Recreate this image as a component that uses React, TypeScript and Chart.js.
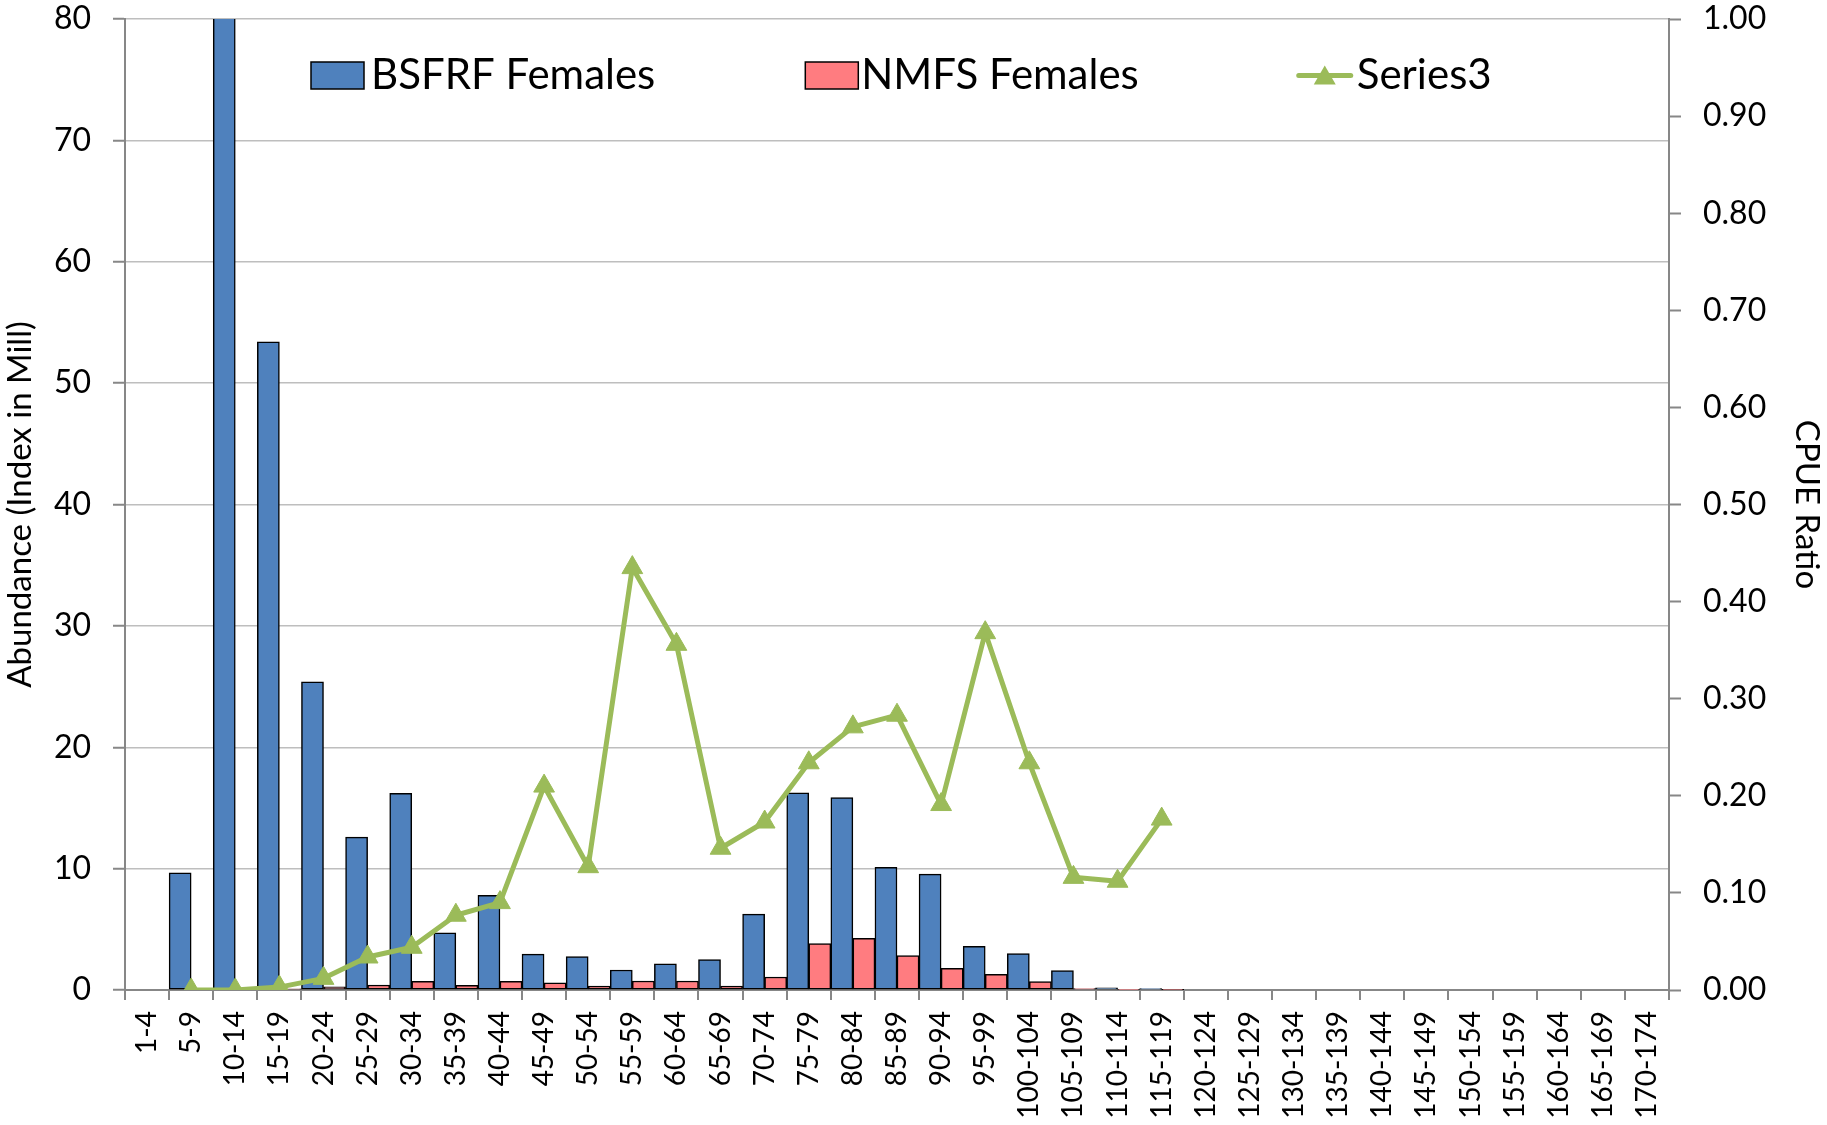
import React, { useEffect, useRef } from 'react';
import { Chart, registerables } from 'chart.js';

Chart.register(...registerables);

const categories = [
  '1-4', '5-9', '10-14', '15-19', '20-24', '25-29', '30-34', '35-39', '40-44', '45-49',
  '50-54', '55-59', '60-64', '65-69', '70-74', '75-79', '80-84', '85-89', '90-94', '95-99',
  '100-104', '105-109', '110-114', '115-119', '120-124', '125-129', '130-134', '135-139',
  '140-144', '145-149', '150-154', '155-159', '160-164', '165-169', '170-174',
];

const bsfrfFemales = [
  null, 9.65, 85, 53.4, 25.4, 12.6, 16.2, 4.7, 7.8, 2.95,
  2.75, 1.65, 2.15, 2.5, 6.25, 16.25, 15.85, 10.1, 9.55, 3.6,
  3.0, 1.6, 0.18, 0.12, null, null, null, null,
  null, null, null, null, null, null, null,
];

const nmfsFemales = [
  null, null, null, 0.1, 0.27, 0.41, 0.71, 0.38, 0.71, 0.6,
  0.33, 0.74, 0.74, 0.33, 1.07, 3.82, 4.26, 2.83, 1.79, 1.29,
  0.69, 0.12, 0.04, 0.02, null, null, null, null,
  null, null, null, null, null, null, null,
];

const series3 = [
  null, 0.0, 0.0, 0.003, 0.012, 0.034, 0.044, 0.077, 0.09, 0.21,
  0.127, 0.435, 0.356, 0.146, 0.173, 0.234, 0.271, 0.283, 0.191, 0.368,
  0.234, 0.116, 0.112, 0.176, null, null, null, null,
  null, null, null, null, null, null, null,
];

const seriesNames = ['BSFRF Females', 'NMFS Females', 'Series3'];
const leftAxisTitle = 'Abundance (Index in Mill)';
const rightAxisTitle = 'CPUE Ratio';

const FONT = 'Lato, "Open Sans", "DejaVu Sans", sans-serif';
const BLUE = '#4F81BD';
const PINK = '#FF7C80';
const GREEN = '#9BBB59';
const AXIS = '#878787';
const GRID = '#BEBEBE';

const legendPlugin = {
  id: 'excelLegend',
  afterDraw(chart: any) {
    const ctx = chart.ctx as CanvasRenderingContext2D;
    ctx.save();
    ctx.font = `42px ${FONT}`;
    ctx.textBaseline = 'alphabetic';
    ctx.textAlign = 'left';
    const baseline = 89;
    const midY = 75.5;
    const gap = 150;
    let x = 311;

    // BSFRF
    ctx.fillStyle = BLUE;
    ctx.fillRect(x, 62, 53, 27);
    ctx.strokeStyle = '#000';
    ctx.lineWidth = 1.5;
    ctx.strokeRect(x, 62, 53, 27);
    ctx.fillStyle = '#000';
    ctx.fillText(seriesNames[0], x + 60, baseline);
    x = x + 60 + ctx.measureText(seriesNames[0]).width + gap;

    // NMFS
    ctx.fillStyle = PINK;
    ctx.fillRect(x, 62, 53, 27);
    ctx.strokeStyle = '#000';
    ctx.lineWidth = 1.5;
    ctx.strokeRect(x, 62, 53, 27);
    ctx.fillStyle = '#000';
    ctx.fillText(seriesNames[1], x + 56, baseline);
    x = x + 56 + ctx.measureText(seriesNames[1]).width + gap;

    // Series3
    x += 10;
    ctx.strokeStyle = GREEN;
    ctx.lineWidth = 5;
    ctx.lineCap = 'round';
    ctx.beginPath();
    ctx.moveTo(x, midY);
    ctx.lineTo(x + 52, midY);
    ctx.stroke();
    const cx = x + 26;
    ctx.fillStyle = GREEN;
    ctx.beginPath();
    ctx.moveTo(cx, midY - 10);
    ctx.lineTo(cx + 11, midY + 9);
    ctx.lineTo(cx - 11, midY + 9);
    ctx.closePath();
    ctx.fill();
    ctx.fillStyle = '#000';
    ctx.fillText(seriesNames[2], x + 58, baseline);
    ctx.restore();
  },
};

export default function App() {
  const canvasRef = useRef<HTMLCanvasElement>(null);

  useEffect(() => {
    const canvas = canvasRef.current;
    if (!canvas) return;
    const chart = new Chart(canvas, {
      type: 'bar',
      data: {
        labels: categories,
        datasets: [
          {
            type: 'line',
            label: seriesNames[2],
            data: series3,
            yAxisID: 'y1',
            borderColor: GREEN,
            backgroundColor: GREEN,
            borderWidth: 5,
            borderJoinStyle: 'round',
            borderCapStyle: 'round',
            pointStyle: 'triangle',
            pointRadius: 12,
            pointBackgroundColor: GREEN,
            pointBorderColor: GREEN,
            pointBorderWidth: 1,
            tension: 0,
            spanGaps: false,
            order: 0,
          } as any,
          {
            type: 'bar',
            label: seriesNames[0],
            data: bsfrfFemales,
            yAxisID: 'y',
            backgroundColor: BLUE,
            borderColor: '#000',
            borderWidth: 1.5,
            borderSkipped: false,
            categoryPercentage: 1,
            barPercentage: 1,
            order: 1,
          } as any,
          {
            type: 'bar',
            label: seriesNames[1],
            data: nmfsFemales,
            yAxisID: 'y',
            backgroundColor: PINK,
            borderColor: '#000',
            borderWidth: 1.5,
            borderSkipped: false,
            categoryPercentage: 1,
            barPercentage: 1,
            order: 1,
          } as any,
        ],
      },
      options: {
        responsive: true,
        maintainAspectRatio: false,
        animation: false,
        layout: { padding: { top: 19, left: 0, right: 0, bottom: 0 } },
        plugins: {
          legend: { display: false },
          tooltip: { enabled: false },
          title: { display: false },
        },
        scales: {
          x: {
            type: 'category',
            offset: true,
            grid: {
              offset: true,
              drawOnChartArea: false,
              drawTicks: true,
              tickLength: 10,
              tickColor: AXIS,
              tickWidth: 2,
              lineWidth: 2,
              color: AXIS,
            },
            border: { display: true, color: AXIS, width: 2 },
            ticks: {
              autoSkip: false,
              maxRotation: 90,
              minRotation: 90,
              padding: 11,
              color: '#000',
              font: { family: FONT, size: 28 },
            },
            afterFit: (scale: any) => {
              scale.height = 135;
            },
          } as any,
          y: {
            type: 'linear',
            position: 'left',
            min: 0,
            max: 80,
            ticks: {
              stepSize: 10,
              padding: 22,
              color: '#000',
              font: { family: FONT, size: 32 },
            },
            grid: {
              color: GRID,
              lineWidth: 1.5,
              tickColor: AXIS,
              tickLength: 12,
              tickWidth: 2,
            },
            border: { display: true, color: AXIS, width: 2 },
            title: {
              display: true,
              text: leftAxisTitle,
              color: '#000',
              font: { family: FONT, size: 33 },
              padding: { top: 1, bottom: 0 },
            },
            afterFit: (scale: any) => {
              scale.width = 125;
              scale.paddingTop = 0;
              scale.paddingBottom = 0;
            },
          } as any,
          y1: {
            type: 'linear',
            position: 'right',
            min: 0,
            max: 1,
            ticks: {
              stepSize: 0.1,
              padding: 22,
              color: '#000',
              font: { family: FONT, size: 32 },
              callback: (v: any) => Number(v).toFixed(2),
            },
            grid: {
              drawOnChartArea: false,
              tickColor: AXIS,
              tickLength: 12,
              tickWidth: 2,
            },
            border: { display: true, color: AXIS, width: 2 },
            title: {
              display: true,
              text: rightAxisTitle,
              color: '#000',
              font: { family: FONT, size: 33 },
              padding: { top: 1, bottom: 0 },
            },
            afterFit: (scale: any) => {
              scale.width = 158;
              scale.paddingTop = 0;
              scale.paddingBottom = 0;
            },
          } as any,
        },
      },
      plugins: [legendPlugin],
    });
    return () => chart.destroy();
  }, []);

  return (
    <div
      style={{
        position: 'fixed',
        left: 0,
        top: 0,
        width: 1827,
        height: 1125,
        background: '#ffffff',
      }}
    >
      <canvas ref={canvasRef} />
    </div>
  );
}
